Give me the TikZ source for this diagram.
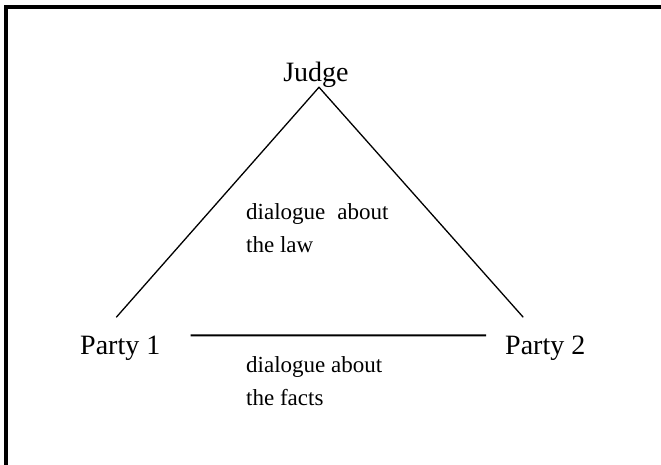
\documentclass[tikz,border=0pt]{standalone}
\usepackage{fontspec}
\setmainfont{Liberation Serif}
\usetikzlibrary{positioning}

\begin{document}
\begin{tikzpicture}[
        x=1pt, y=-1pt,
    party/.style = {inner sep=0pt, font=\fontsize{28}{34}\selectfont},
     note/.style = {inner sep=0pt, align=left, anchor=base west,
                    font=\fontsize{23}{33}\selectfont},
     side/.style = {line width=1.3pt},
    frame/.style = {line width=4pt}
                    ]
\useasboundingbox (0,0) rectangle (661,465);
% frame
\draw[frame] (6,465) -- (6,7) -- (661,7);
% main
\node (judge)  [party, anchor=base]      at (316,82)  {Judge};
\node (party1) [party, anchor=base west] at (80,354)  {Party 1};
\node (party2) [party, anchor=base west] at (505,354) {Party 2};
\node (law)    [note] at (246,252) {dialogue\hspace{12pt}about\\the law};
\node (facts)  [note] at (246,405) {dialogue about\\the facts};
% coordinates
\coordinate (apex) at ([xshift=3pt,yshift=1pt]judge.south);
\coordinate (p1)   at ([xshift=-4pt,yshift=18pt]party1.north);
\coordinate (p2)   at ([xshift=-22pt,yshift=18pt]party2.north);

\draw[side] (p1) -- (apex) -- (p2);
\draw[side, line width=2pt] ([xshift=30pt]party1.north east)
    -- ([xshift=-19pt]party2.north west);
\end{tikzpicture}
\end{document}
